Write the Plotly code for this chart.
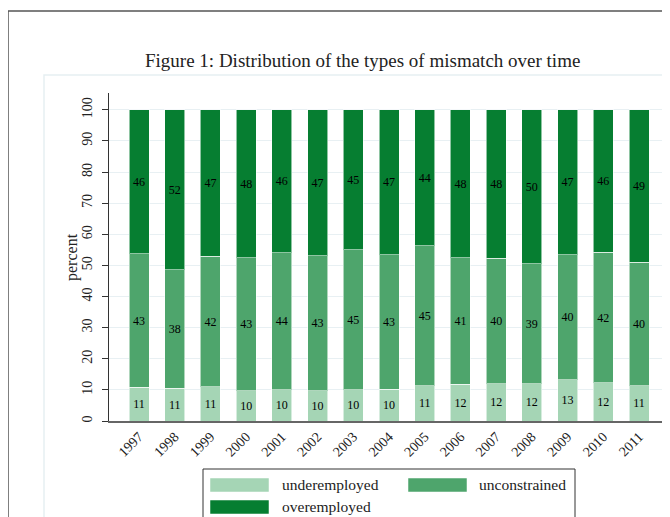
import plotly.graph_objects as go

years = ["1997", "1998", "1999", "2000", "2001", "2002", "2003", "2004",
         "2005", "2006", "2007", "2008", "2009", "2010", "2011"]
underemployed = [10.8, 10.5, 11.0, 9.8, 10.0, 9.7, 10.0, 10.2, 11.4, 11.8, 11.9, 11.9, 13.2, 12.3, 11.3]
unconstrained = [42.9, 38.1, 41.9, 42.6, 44.0, 43.4, 45.0, 43.3, 44.9, 40.6, 40.4, 38.6, 40.3, 41.9, 39.7]
overemployed = [46.3, 51.4, 47.1, 47.6, 46.0, 46.9, 45.0, 46.5, 43.7, 47.6, 47.7, 49.5, 46.5, 45.8, 49.0]
under_labels = ["11", "11", "11", "10", "10", "10", "10", "10", "11", "12", "12", "12", "13", "12", "11"]
uncon_labels = ["43", "38", "42", "43", "44", "43", "45", "43", "45", "41", "40", "39", "40", "42", "40"]
over_labels = ["46", "52", "47", "48", "46", "47", "45", "47", "44", "48", "48", "50", "47", "46", "49"]
series_names = ["underemployed", "unconstrained", "overemployed"]
colors = ["#a5d5b5", "#4ea56c", "#067e31"]

SERIF = "Liberation Serif, Times New Roman, serif"

fig = go.Figure()
for name, vals, labs, col in zip(series_names,
                                 [underemployed, unconstrained, overemployed],
                                 [under_labels, uncon_labels, over_labels],
                                 colors):
    fig.add_trace(go.Bar(
        x=years, y=vals, name=name, text=labs, texttemplate="%{text}",
        textposition="inside", insidetextanchor="middle", textangle=0,
        constraintext="none",
        textfont=dict(family=SERIF, size=12, color="black"),
        marker=dict(color=col, line=dict(color="rgba(255,255,255,0.55)", width=1)),
        width=0.56, showlegend=False,
    ))

# page offset: the browser body adds an 8px margin
OFF = 8
FW, FH = 670 - OFF, 517 - OFF
# plot-area geometry in screen pixels
L, R, T, B = 109, 669, 93, 421
W, H = R - L, B - T
def px(x):
    return (x - L) / W
def py(y):
    return (B - y) / H

shapes = []
# page border
shapes.append(dict(type="line", xref="paper", yref="paper", x0=px(8), x1=px(700), y0=py(11), y1=py(11),
                   line=dict(color="#555555", width=1.5)))
shapes.append(dict(type="line", xref="paper", yref="paper", x0=px(8), x1=px(8), y0=py(11), y1=py(540),
                   line=dict(color="#555555", width=1.5)))
# light graph-region frame
shapes.append(dict(type="rect", xref="paper", yref="paper", x0=px(44), x1=px(720), y0=py(75), y1=py(560),
                   line=dict(color="#e6eff2", width=1.5), layer="below"))
# legend box
shapes.append(dict(type="rect", xref="paper", yref="paper", x0=px(203), x1=px(575), y0=py(469), y1=py(540),
                   line=dict(color="#333333", width=1)))
legend_pos = [(210, 478, 280), (408, 478, 477), (210, 500, 280)]
annotations = []
for (sx, sy, tx), name, col in zip(legend_pos, series_names, colors):
    shapes.append(dict(type="rect", xref="paper", yref="paper", x0=px(sx), x1=px(sx + 59),
                       y0=py(sy), y1=py(sy + 14), fillcolor=col,
                       line=dict(color="rgba(255,255,255,0.5)", width=1)))
    annotations.append(dict(xref="paper", yref="paper", x=px(tx), y=py(sy + 6.5), text=name,
                            showarrow=False, xanchor="left", yanchor="middle",
                            font=dict(family=SERIF, size=15.5, color="#222222")))

annotations.append(dict(xref="paper", yref="paper", x=px(362), y=py(61),
                        text="Figure 1: Distribution of the types of mismatch over time",
                        showarrow=False, xanchor="center", yanchor="middle",
                        font=dict(family=SERIF, size=19, color="#222222")))
annotations.append(dict(xref="paper", yref="paper", x=px(72), y=0.5, text="percent",
                        textangle=-90, showarrow=False, xanchor="center", yanchor="middle",
                        font=dict(family=SERIF, size=16, color="#222222")))

fig.update_layout(
    width=FW, height=FH,
    margin=dict(l=L - OFF, r=FW - (R - OFF), t=T - OFF, b=FH - (B - OFF)),
    paper_bgcolor="white", plot_bgcolor="white",
    barmode="stack",
    font=dict(family=SERIF, color="#222222"),
    shapes=shapes, annotations=annotations,
    showlegend=False,
)
fig.update_xaxes(
    type="category", range=[-0.84, 14.84], showline=True, linecolor="#666666", linewidth=2,
    ticks="", tickangle=-45, tickfont=dict(family=SERIF, size=14, color="#222222"),
    showgrid=False, zeroline=False, fixedrange=True,
)
fig.update_yaxes(
    range=[0, 105.4], tick0=0, dtick=10, showline=True, linecolor="#333333", linewidth=1.3,
    ticks="outside", ticklen=6, tickcolor="#333333", tickwidth=1.3, tickangle=-90,
    ticklabelstandoff=4,
    tickfont=dict(family=SERIF, size=14, color="#222222"),
    showgrid=True, gridcolor="#e8f0f3", gridwidth=1, zeroline=False, fixedrange=True,
)

fig.write_html("out.html")
